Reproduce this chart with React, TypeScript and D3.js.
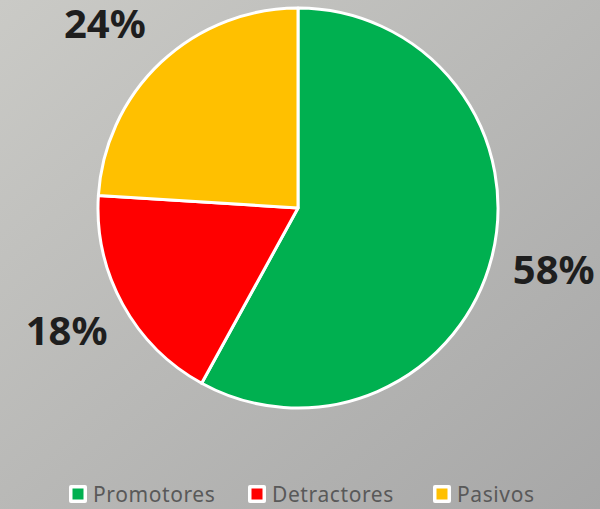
import React from "react";
import * as d3 from "d3";

const categories = ["Promotores", "Detractores", "Pasivos"];
const values = [58, 18, 24];
const colors = ["#00B050", "#FF0000", "#FFC000"];

const W = 600;
const H = 509;

export default function App() {
  const cx = 298;
  const cy = 208;
  const r = 200;
  const labelR = 264;
  const pie = d3.pie<number>().sort(null).value((d) => d)(values);
  const arc = d3.arc<d3.PieArcDatum<number>>().innerRadius(0).outerRadius(r);
  const labelArc = d3.arc<d3.PieArcDatum<number>>().innerRadius(labelR).outerRadius(labelR);

  const minCenterY = 28 - cy;

  const legendX = [69, 248, 433];

  return (
    <svg
      width={W}
      height={H}
      style={{ position: "absolute", left: 0, top: 0 }}
      fontFamily="'Noto Sans', sans-serif"
    >
      <defs>
        <linearGradient id="bg" x1="0" y1="0" x2="1" y2="1">
          <stop offset="0" stopColor="#cacac6" />
          <stop offset="1" stopColor="#a7a7a7" />
        </linearGradient>
      </defs>
      <rect x={0} y={0} width={W} height={H} fill="url(#bg)" />
      <g transform={`translate(${cx},${cy})`}>
        {pie.map((p, i) => (
          <path key={i} d={arc(p) || ""} fill={colors[i]} stroke="#ffffff" strokeWidth={3} strokeLinejoin="round" />
        ))}
        {pie.map((p, i) => {
          let [lx, ly] = labelArc.centroid(p);
          if (ly < minCenterY) {
            ly = minCenterY;
            lx = Math.sign(lx) * Math.sqrt(labelR * labelR - ly * ly);
          }
          return (
            <text
              key={"l" + i}
              x={lx}
              y={ly + 10}
              textAnchor="middle"
              fontSize={40}
              fontWeight="bold"
              fill="#1e1e1e"
            >
              {values[i]}%
            </text>
          );
        })}
      </g>
      {categories.map((c, i) => (
        <g key={"lg" + i} transform={`translate(${legendX[i]},485)`}>
          <rect x={0} y={0} width={18} height={18} rx={2} fill="#ffffff" />
          <rect x={3.5} y={3.5} width={11} height={11} fill={colors[i]} />
          <text x={24} y={17} fontSize={21} letterSpacing={0.6} fill="#595959">
            {c}
          </text>
        </g>
      ))}
    </svg>
  );
}
